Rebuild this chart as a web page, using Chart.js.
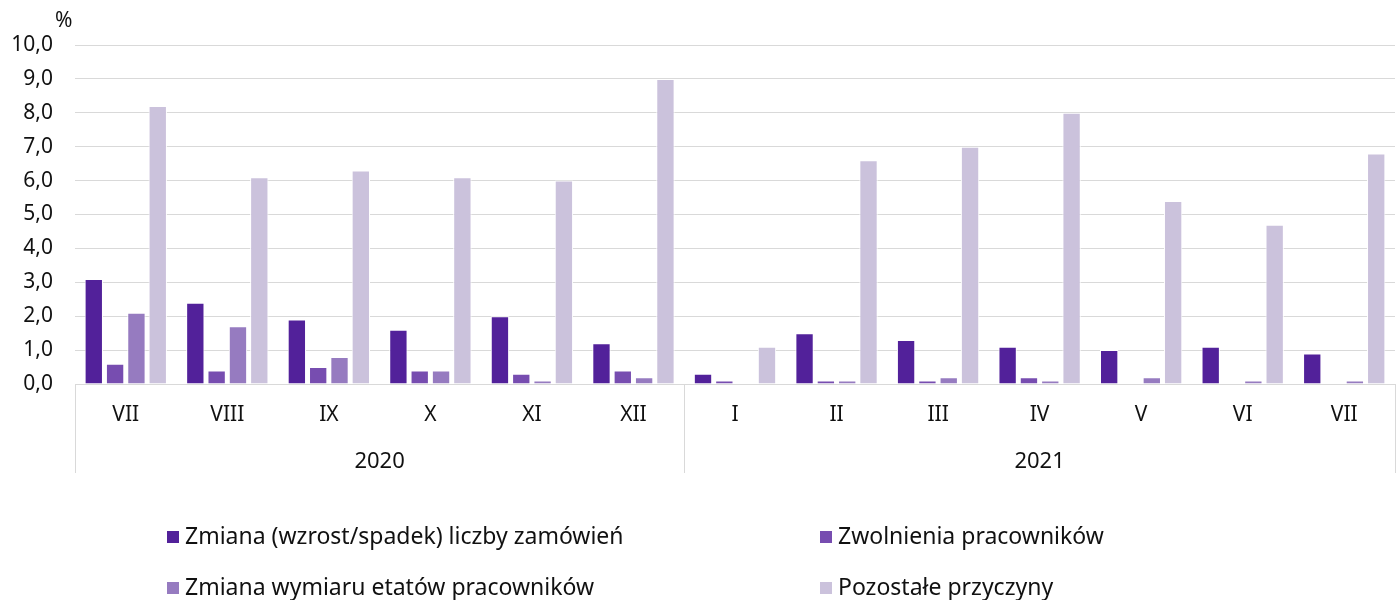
<!DOCTYPE html>
<html>
<head>
<meta charset="utf-8">
<script src="https://cdn.jsdelivr.net/npm/chart.js@4.4.0/dist/chart.umd.min.js"></script>
<style>
  html, body { margin: 0; padding: 0; background: #fff; }
  #wrap { position: relative; width: 1397px; height: 600px; }
  #unit { position: absolute; left: 55px; top: 5px; font: 21px "Noto Sans", sans-serif; color: #111; }
  .leg { position: absolute; font: 23px "Noto Sans", sans-serif; color: #111; white-space: nowrap; line-height: 28px; }
  .leg i { display: inline-block; width: 12px; height: 12px; margin-right: 6px; vertical-align: 1px; }
</style>
</head>
<body>
<div id="wrap">
  <canvas id="chart" width="1397" height="600"></canvas>
  <div id="unit">%</div>
  <div id="legend"></div>
</div>
<script>
const categories = ['VII', 'VIII', 'IX', 'X', 'XI', 'XII', 'I', 'II', 'III', 'IV', 'V', 'VI', 'VII'];
const years = ['2020', '2021'];
const yearSpans = [6, 7];

const seriesNames = [
  'Zmiana (wzrost/spadek) liczby zamówień',
  'Zwolnienia pracowników',
  'Zmiana wymiaru etatów pracowników',
  'Pozostałe przyczyny'
];
const orders    = [3.1, 2.4, 1.9, 1.6, 2.0, 1.2, 0.3, 1.5, 1.3, 1.1, 1.0, 1.1, 0.9];
const layoffs   = [0.6, 0.4, 0.5, 0.4, 0.3, 0.4, 0.1, 0.1, 0.1, 0.2, 0.0, 0.0, 0.0];
const hours     = [2.1, 1.7, 0.8, 0.4, 0.1, 0.2, 0.0, 0.1, 0.2, 0.1, 0.2, 0.1, 0.1];
const other     = [8.2, 6.1, 6.3, 6.1, 6.0, 9.0, 1.1, 6.6, 7.0, 8.0, 5.4, 4.7, 6.8];

const colors = ['#52219a', '#774db0', '#967bc0', '#cbc2dc'];
const FONT = '"Noto Sans", sans-serif';

// year row + group separators under the month labels
const yearAxis = {
  id: 'yearAxis',
  afterDraw(chart) {
    const ctx = chart.ctx;
    const area = chart.chartArea;
    const step = (area.right - area.left) / categories.length;
    const bottom = area.bottom + 89;
    ctx.save();
    ctx.strokeStyle = '#d9d9d9';
    ctx.lineWidth = 1;
    let start = 0;
    const edges = [area.left];
    years.forEach((y, i) => {
      const end = start + yearSpans[i];
      const l = area.left + start * step;
      const r = area.left + end * step;
      edges.push(r);
      ctx.fillStyle = '#111';
      ctx.font = '22px ' + FONT;
      ctx.textAlign = 'center';
      ctx.textBaseline = 'middle';
      ctx.fillText(y, (l + r) / 2, area.bottom + 78);
      start = end;
    });
    edges.forEach(e => {
      const px = Math.round(e) + 0.5;
      ctx.beginPath();
      ctx.moveTo(px, area.bottom);
      ctx.lineTo(px, bottom);
      ctx.stroke();
    });
    ctx.restore();
  }
};

new Chart(document.getElementById('chart'), {
  type: 'bar',
  data: {
    labels: categories,
    datasets: [orders, layoffs, hours, other].map((d, i) => ({
      label: seriesNames[i],
      data: d,
      backgroundColor: colors[i],
      borderColor: '#ffffff',
      borderWidth: 1,
      categoryPercentage: 0.84,
      barPercentage: 0.86
    }))
  },
  options: {
    responsive: false,
    animation: false,
    layout: { padding: { top: 45, right: 2, left: 0, bottom: 126 } },
    plugins: { legend: { display: false }, tooltip: { enabled: false } },
    scales: {
      x: {
        grid: { display: false },
        border: { display: false },
        ticks: { color: '#111', font: { family: FONT, size: 21 }, padding: 10, maxRotation: 0 },
        afterFit(scale) { scale.height = 90; }
      },
      y: {
        min: 0,
        max: 10,
        grid: { color: '#d9d9d9', lineWidth: 1, drawTicks: false },
        border: { display: false },
        ticks: {
          stepSize: 1,
          padding: 22,
          color: '#111',
          font: { family: FONT, size: 21 },
          callback: v => v.toFixed(1).replace('.', ',')
        },
        afterFit(scale) { scale.width = 75; }
      }
    }
  },
  plugins: [yearAxis]
});

// legend in two columns
const legendPos = [[167, 521], [820, 521], [167, 572], [820, 572]];
const legend = document.getElementById('legend');
seriesNames.forEach((n, i) => {
  const d = document.createElement('div');
  d.className = 'leg';
  d.style.left = legendPos[i][0] + 'px';
  d.style.top = legendPos[i][1] + 'px';
  d.innerHTML = '<i style="background:' + colors[i] + '"></i>' + n;
  legend.appendChild(d);
});
</script>
</body>
</html>
